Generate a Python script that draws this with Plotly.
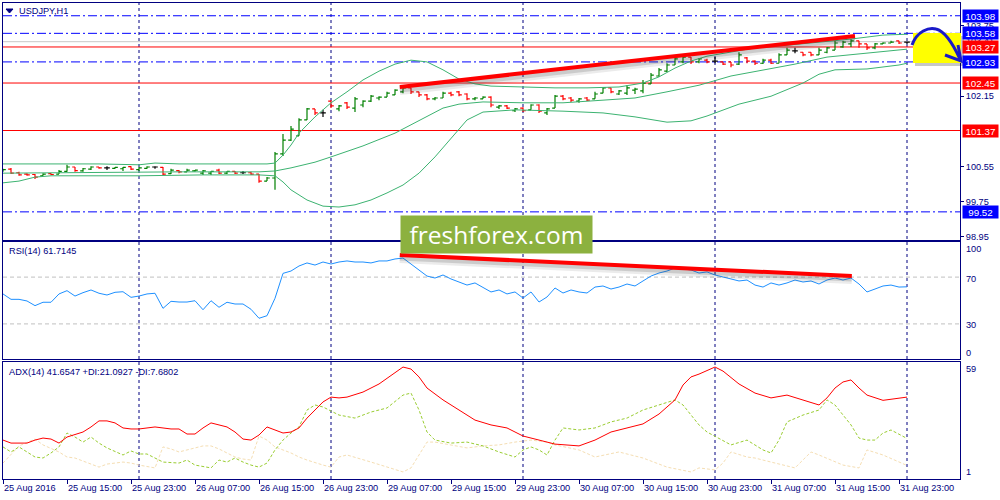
import plotly.graph_objects as go

# ---------------- data (H1 bars, index 0 = 25 Aug 2016 07:00) ----------------
bar_open = [100.44,100.49,100.41,100.38,100.37,100.34,100.39,100.38,100.44,100.54,
            100.45,100.49,100.54,100.52,100.51,100.50,100.55,100.48,100.51,100.54,
            100.53,100.39,100.46,100.43,100.45,100.40,100.40,100.47,100.40,100.44,
            100.41,100.41,100.38,100.22,100.29,100.84,101.15,101.25,101.61,101.86,
            101.77,102.04,101.86,102.00,101.88,101.95,102.04,102.11,102.13,102.18,
            102.25,102.34,102.25,102.18,102.09,102.11,102.22,102.25,102.20,102.09,
            102.09,102.13,101.90,101.93,101.82,101.88,101.84,101.95,101.77,101.88,
            102.15,102.11,102.04,102.11,102.09,102.22,102.34,102.20,102.22,102.29,
            102.27,102.43,102.61,102.72,102.86,102.93,103.04,102.93,102.97,102.95,
            102.93,102.93,102.88,103.02,102.95,102.90,102.97,102.90,103.09,103.18,
            103.15,103.15,103.09,103.15,103.20,103.27,103.34,103.41,103.34,103.25,
            103.34,103.36,103.41,103.38]
bar_high = [100.50,100.52,100.43,100.40,100.38,100.40,100.40,100.47,100.59,100.54,
            100.52,100.56,100.54,100.56,100.54,100.54,100.56,100.54,100.56,100.56,
            100.54,100.50,100.47,100.50,100.47,100.47,100.45,100.50,100.45,100.45,
            100.45,100.43,100.38,100.31,100.88,101.29,101.47,101.65,101.88,101.86,
            101.84,102.06,101.95,102.02,102.13,102.06,102.18,102.15,102.25,102.31,
            102.36,102.34,102.25,102.20,102.13,102.25,102.25,102.27,102.22,102.13,
            102.15,102.15,101.95,101.95,101.88,101.90,101.97,101.97,101.88,102.18,
            102.18,102.13,102.11,102.13,102.25,102.36,102.34,102.29,102.40,102.34,
            102.52,102.68,102.79,102.90,103.04,103.06,103.04,103.02,103.00,103.04,
            102.93,102.93,103.15,103.04,102.97,103.00,103.00,103.13,103.25,103.25,
            103.15,103.15,103.25,103.27,103.41,103.41,103.45,103.41,103.34,103.36,
            103.38,103.41,103.41,103.38]
bar_low = [100.43,100.38,100.34,100.34,100.27,100.34,100.36,100.38,100.43,100.43,
           100.43,100.47,100.50,100.47,100.50,100.45,100.47,100.45,100.50,100.50,
           100.36,100.38,100.40,100.43,100.43,100.36,100.36,100.38,100.38,100.38,
           100.38,100.36,100.18,100.22,100.02,100.79,101.13,101.25,101.61,101.72,
           101.68,101.88,101.81,101.86,101.79,101.90,102.02,102.06,102.13,102.18,
           102.22,102.20,102.13,102.06,102.06,102.11,102.15,102.15,102.06,102.06,
           102.09,101.90,101.86,101.86,101.79,101.79,101.84,101.77,101.72,101.88,
           102.06,102.02,102.00,102.04,102.09,102.22,102.22,102.18,102.18,102.20,
           102.22,102.43,102.59,102.70,102.86,102.90,102.88,102.90,102.90,102.90,
           102.86,102.81,102.86,102.90,102.86,102.88,102.88,102.90,103.09,103.13,
           103.06,103.06,103.09,103.13,103.20,103.25,103.27,103.25,103.20,103.22,
           103.34,103.36,103.34,103.34]
bar_close = [100.48,100.40,100.36,100.36,100.31,100.38,100.37,100.44,100.54,100.46,
             100.50,100.54,100.52,100.52,100.53,100.53,100.49,100.52,100.54,100.54,
             100.38,100.47,100.43,100.47,100.47,100.45,100.44,100.40,100.44,100.40,
             100.41,100.38,100.22,100.29,100.84,101.15,101.40,101.61,101.86,101.77,
             101.77,101.93,101.93,101.90,102.09,102.04,102.15,102.13,102.22,102.29,
             102.34,102.25,102.18,102.09,102.11,102.22,102.18,102.18,102.09,102.11,
             102.13,101.95,101.93,101.88,101.86,101.82,101.95,101.81,101.86,102.15,
             102.09,102.06,102.09,102.06,102.20,102.34,102.25,102.27,102.34,102.31,
             102.45,102.63,102.75,102.86,103.00,103.04,102.93,103.00,102.93,102.95,
             102.88,102.86,103.09,102.95,102.90,102.97,102.90,103.09,103.20,103.18,
             103.09,103.09,103.20,103.25,103.36,103.38,103.41,103.34,103.25,103.34,
             103.36,103.38,103.36,103.38]

# Bollinger bands (read at selected bars)
bb_upper_idx = [0,12,17,19,22,32,33,34,35,36,37,39,41,43,45,47,49,51,53,55,57,59,61,65,69,73,77,80,82,84,86,88,91,94,98,102,106,110,113]
bb_upper = [100.61,100.61,100.59,100.63,100.61,100.61,100.61,100.63,100.81,101.04,
            101.31,101.68,102.00,102.25,102.52,102.72,102.88,102.97,102.93,102.75,
            102.54,102.43,102.38,102.36,102.34,102.34,102.36,102.45,102.59,102.79,
            102.95,103.06,103.15,103.25,103.31,103.38,103.45,103.54,103.56]
bb_mid_idx = [0,12,22,32,34,36,39,41,45,49,52,55,57,60,65,70,75,79,83,87,91,95,99,103,108,113]
bb_mid = [100.40,100.42,100.43,100.43,100.45,100.52,100.65,100.77,101.02,101.31,101.59,101.88,101.97,
          102.02,102.00,102.00,102.06,102.11,102.25,102.40,102.61,102.75,102.88,103.04,103.13,103.22]
bb_lower_idx = [0,2,4,6,17,21,25,32,34,35,36,38,40,42,44,46,48,50,52,54,56,58,60,64,70,75,79,83,86,88,92,96,100,102,104,108,112,113]
bb_lower = [100.18,100.22,100.31,100.34,100.34,100.35,100.36,100.36,100.34,100.20,
            100.02,99.79,99.65,99.63,99.68,99.79,99.95,100.13,100.40,100.77,
            101.20,101.61,101.79,101.84,101.81,101.77,101.68,101.56,101.59,101.70,
            101.97,102.15,102.45,102.65,102.75,102.77,102.86,102.90]

# RSI(14), one value per bar
rsi = [55.6,51.0,51.0,49.6,45.6,48.5,48.5,55.6,58.4,53.8,
       56.7,59.0,56.2,54.7,57.0,57.5,52.7,53.8,55.6,56.2,
       43.3,49.3,48.7,48.7,49.8,42.1,49.8,44.2,48.5,47.0,
       47.0,42.5,34.8,37.0,51.9,73.2,75.2,79.5,82.1,80.3,
       82.9,81.2,82.9,83.8,82.9,82.9,82.1,83.8,83.8,85.5,
       86.3,81.2,76.1,70.9,69.2,71.8,68.4,65.8,63.2,65.0,
       61.5,57.3,59.0,55.6,57.3,52.1,57.3,48.7,53.0,60.7,
       56.4,59.0,57.3,56.4,61.5,62.4,59.8,61.5,64.1,62.4,
       66.7,70.9,73.5,75.2,77.8,76.9,76.1,73.5,74.4,71.8,
       70.1,68.4,66.7,67.5,63.2,61.5,65.0,63.2,65.0,67.5,
       65.8,66.7,64.1,67.5,69.2,67.5,69.2,64.1,57.3,59.8,
       62.4,63.2,61.5,61.7]

# ADX(14)
adx_idx = [0,1,3,4,5,6,7,8,10,11,12,13,14,15,16,17,19,21,22,23,24,25,26,27,28,29,30,31,32,33,
           34,35,36,37,38,39,40,41,42,43,45,47,49,50,51,52,53,55,57,59,61,63,65,67,69,72,74,76,78,80,
           82,84,85,86,87,89,90,92,94,96,98,100,102,103,104,105,106,107,108,110,112,113]
adx_val = [20.3,18.8,18.8,20.3,21.3,20.8,18.8,21.8,24.3,26.8,29.8,29.8,28.8,26.3,25.8,25.8,26.8,25.8,25.8,23.3,
           23.3,26.3,28.8,27.8,26.8,24.3,20.8,20.3,22.8,26.8,25.3,23.8,24.3,26.3,31.2,35.2,39.2,41.6,41.2,41.6,
           44.1,48.1,54.0,56.5,55.5,51.6,46.1,40.2,35.2,30.2,27.8,26.3,22.3,20.3,18.3,17.4,20.3,24.3,26.3,28.3,
           33.2,40.2,47.6,51.6,53.0,56.5,54.5,48.1,43.6,41.2,42.6,40.2,37.7,41.2,46.1,49.1,50.1,46.1,42.6,40.0,
           41.0,41.6]
pdi_idx = [0,1,2,4,5,6,7,8,9,10,11,12,13,15,16,17,18,19,20,22,23,24,26,27,28,29,30,31,32,33,
           34,35,36,37,38,39,40,42,44,46,48,50,51,52,53,54,56,58,60,62,64,65,66,67,68,69,70,72,74,76,
           78,80,82,84,85,86,87,88,90,91,93,95,96,97,98,100,102,103,104,105,106,107,108,109,110,111,113]
pdi_val = [16.9,14.4,16.9,11.9,11.4,13.9,16.9,23.8,21.8,19.3,21.8,18.8,16.4,12.9,14.9,13.4,13.4,11.4,9.4,8.9,
           10.4,7.9,6.5,10.4,9.4,11.4,9.4,7.9,6.9,8.9,15.4,20.3,23.8,26.8,35.2,37.7,36.7,32.7,31.2,34.2,
           36.2,42.6,43.6,35.2,24.3,20.3,18.8,19.3,17.4,14.4,11.9,15.4,16.9,15.4,12.9,20.3,26.3,25.3,26.3,29.3,
           31.2,35.2,37.7,40.2,37.7,32.7,27.8,24.3,20.3,17.9,20.3,15.4,13.9,20.3,29.3,32.7,35.2,40.2,37.7,32.7,
           27.8,21.3,20.3,20.3,23.8,25.3,21.1]
mdi_idx = [0,1,2,4,5,7,8,9,10,12,13,15,16,17,19,20,21,22,23,25,26,27,28,29,30,31,32,33,34,35,
           36,37,38,40,41,42,43,46,50,51,52,53,54,56,58,60,62,64,66,68,69,72,74,77,80,83,86,87,89,90,
           91,93,94,96,99,101,102,105,107,108,110,113]
mdi_val = [8.9,12.9,17.4,20.8,17.9,14.4,11.9,11.4,9.9,6.9,8.4,9.4,8.9,7.9,6.5,16.9,15.9,14.4,15.4,17.4,
           17.4,15.9,13.9,11.9,10.9,10.4,22.3,20.3,16.9,15.4,13.9,11.9,10.4,7.9,6.9,11.9,12.9,9.4,4.5,6.5,
           12.9,19.3,19.3,17.9,16.4,17.4,17.9,19.3,20.3,19.3,17.9,15.4,11.9,14.4,11.4,6.9,4.5,6.5,5.5,8.9,
           14.4,11.9,11.4,9.4,6.5,14.4,12.9,7.9,6.5,15.4,12.9,7.7]

# axis ticks / labels
x_tick_idx = [0,8,16,24,32,40,48,56,64,72,80,88,96,104,112]
x_tick_text = ["25 Aug 2016","25 Aug 15:00","25 Aug 23:00","26 Aug 07:00","26 Aug 15:00",
               "26 Aug 23:00","29 Aug 07:00","29 Aug 15:00","29 Aug 23:00","30 Aug 07:00",
               "30 Aug 15:00","30 Aug 23:00","31 Aug 07:00","31 Aug 15:00","31 Aug 23:00"]
day_sep_idx = [17,41,65,89,113]
price_ticks = [98.95,99.75,100.55,102.15,103.75]
blue_levels = [103.98,103.58,102.93,99.52]
red_levels = [103.27,102.45,101.37]
bid_price = 103.39
bid_label = 103.41
trend_price = dict(x=[49.6,106.5], y=[102.36,103.52])
trend_rsi = dict(x=[49.6,106.1], y=[88.9,70.9])
rsi_levels = [70,30]
rsi_labels = ["100","70","30","0"]
adx_labels = ["59","1"]

# ---------------- style ----------------
NAVY = '#000080'
BLUE = '#0000FF'
RED = '#FF0000'
BB = '#3CB371'
FONT = 'Liberation Sans, Arial, sans-serif'
FS = 9.2
L_PX, R_PX, T_PX, B_PX = 3, 960, 3, 479

def px_x(x):
    return (x - L_PX) / (R_PX - L_PX)

def px_y(y):
    return (B_PX - y) / (B_PX - T_PX)

fig = go.Figure()

# Bollinger bands
for xi, yv in [(bb_upper_idx, bb_upper), (bb_mid_idx, bb_mid), (bb_lower_idx, bb_lower)]:
    fig.add_trace(go.Scatter(x=xi, y=yv, mode='lines', line=dict(color=BB, width=1),
                             xaxis='x', yaxis='y', hoverinfo='skip', showlegend=False))

# price bars split by direction
n = len(bar_open)
groups = [([i for i in range(n) if bar_close[i] > bar_open[i]], '#008000'),
          ([i for i in range(n) if bar_close[i] < bar_open[i]], RED),
          ([i for i in range(n) if bar_close[i] == bar_open[i]], '#000000')]
for idx, col in groups:
    fig.add_trace(go.Ohlc(x=idx,
                          open=[bar_open[i] for i in idx], high=[bar_high[i] for i in idx],
                          low=[bar_low[i] for i in idx], close=[bar_close[i] for i in idx],
                          increasing=dict(line=dict(color=col, width=1.2)),
                          decreasing=dict(line=dict(color=col, width=1.2)),
                          tickwidth=0.35, xaxis='x', yaxis='y', hoverinfo='skip', showlegend=False))

# RSI
fig.add_trace(go.Scatter(x=list(range(len(rsi))), y=rsi, mode='lines', line=dict(color='#1E90FF', width=1),
                         xaxis='x2', yaxis='y2', hoverinfo='skip', showlegend=False))
# ADX
fig.add_trace(go.Scatter(x=mdi_idx, y=mdi_val, mode='lines', line=dict(color='#F5DEB3', width=1, dash='3px,2px'),
                         xaxis='x3', yaxis='y3', hoverinfo='skip', showlegend=False))
fig.add_trace(go.Scatter(x=pdi_idx, y=pdi_val, mode='lines', line=dict(color='#9ACD32', width=1, dash='3px,2px'),
                         xaxis='x3', yaxis='y3', hoverinfo='skip', showlegend=False))
fig.add_trace(go.Scatter(x=adx_idx, y=adx_val, mode='lines', line=dict(color=RED, width=1),
                         xaxis='x3', yaxis='y3', hoverinfo='skip', showlegend=False))

shapes = []
# day separators
for d in day_sep_idx:
    shapes.append(dict(type='line', xref='x', yref='paper', x0=d, x1=d, y0=0, y1=1,
                       line=dict(color=NAVY, width=1, dash='3px,3px'), layer='below'))
# bid line
shapes.append(dict(type='line', xref='x domain', yref='y', x0=0, x1=1, y0=bid_price, y1=bid_price,
                   line=dict(color='#C8C8C8', width=1), layer='below'))
for lv in blue_levels:
    shapes.append(dict(type='line', xref='x domain', yref='y', x0=0, x1=1, y0=lv, y1=lv,
                       line=dict(color=BLUE, width=1, dash='9px,3px,2px,3px'), layer='below'))
for lv in red_levels:
    shapes.append(dict(type='line', xref='x domain', yref='y', x0=0, x1=1, y0=lv, y1=lv,
                       line=dict(color=RED, width=1), layer='below'))
for lv in rsi_levels:
    shapes.append(dict(type='line', xref='x2 domain', yref='y2', x0=0, x1=1, y0=lv, y1=lv,
                       line=dict(color='#C0C0C0', width=1, dash='4px,3px'), layer='below'))

# trend lines with soft shadow
px_per_price = 237 / (104.27 - 98.88)
px_per_rsi = 117 / 100
for tl, xr, yr, per in [(trend_price, 'x', 'y', px_per_price), (trend_rsi, 'x2', 'y2', px_per_rsi)]:
    for off, w, a in [(3.5 / per, 9, 0.10), (2.5 / per, 6, 0.18)]:
        shapes.append(dict(type='line', xref=xr, yref=yr, x0=tl['x'][0], x1=tl['x'][1],
                           y0=tl['y'][0] - off, y1=tl['y'][1] - off,
                           line=dict(color=f'rgba(60,60,60,{a})', width=w), layer='above'))
    shapes.append(dict(type='line', xref=xr, yref=yr, x0=tl['x'][0], x1=tl['x'][1],
                       y0=tl['y'][0], y1=tl['y'][1], line=dict(color=RED, width=4), layer='above'))

# yellow highlight box with shadow + blue curved arrow
shapes.append(dict(type='rect', xref='paper', yref='paper', x0=px_x(915), x1=px_x(964), y0=px_y(66), y1=px_y(36),
                   fillcolor='rgba(0,0,0,0.22)', line=dict(width=0), layer='above'))
shapes.append(dict(type='rect', xref='paper', yref='paper', x0=px_x(913), x1=px_x(961), y0=px_y(63), y1=px_y(33),
                   fillcolor='#FFFF00', line=dict(width=0), layer='above'))

def pt(x, y):
    return f"{px_x(x):.5f},{px_y(y):.5f}"

curve = (f"M {pt(912,45)} C {pt(917,31)} {pt(929,27)} {pt(936,29)} "
         f"C {pt(945,31)} {pt(953,44)} {pt(960,59)}")
shapes.append(dict(type='path', xref='paper', yref='paper', path=curve,
                   line=dict(color='#1A1AC8', width=3), layer='above'))
head = f"M {pt(958,45)} L {pt(961,61)} L {pt(945,55)}"
shapes.append(dict(type='path', xref='paper', yref='paper', path=head,
                   line=dict(color='#1A1AC8', width=3), layer='above'))
# title triangle
tri = f"M {pt(6,9)} L {pt(13,9)} L {pt(9.5,13)} Z"
shapes.append(dict(type='path', xref='paper', yref='paper', path=tri, fillcolor=NAVY,
                   line=dict(color=NAVY, width=1), layer='above'))

ann = []
def txt(x, y, s, color=NAVY, size=FS, xanchor='left'):
    ann.append(dict(x=px_x(x), y=px_y(y), xref='paper', yref='paper', text=s, showarrow=False,
                    xanchor=xanchor, yanchor='middle', font=dict(family=FONT, size=size, color=color)))

txt(17, 11, "USDJPY,H1")
txt(7, 251, "RSI(14) 61.7145")
txt(7, 372, "ADX(14) 41.6547 +DI:21.0927 -DI:7.6802")
for s, y in zip(rsi_labels, [249, 279, 325, 353]):
    txt(964, y, s)
for s, y in zip(adx_labels, [369, 472]):
    txt(964, y, s)
# x labels
for xi, s in zip(x_tick_idx, x_tick_text):
    ann.append(dict(x=xi, y=px_y(488), xref='x3', yref='paper', text=s, showarrow=False,
                    xanchor='left', yanchor='middle', xshift=-1,
                    font=dict(family=FONT, size=FS, color=NAVY)))
# bid label (partly hidden behind the level labels, as in the terminal)
ann.append(dict(x=1, y=bid_label, xref='paper', yref='y', text=f"{bid_label:.2f}", showarrow=False,
                xanchor='left', yanchor='middle', xshift=4, font=dict(family=FONT, size=FS, color=NAVY)))
# coloured level labels
for lv in blue_levels + red_levels:
    col = BLUE if lv in blue_levels else RED
    ann.append(dict(x=1, y=lv, xref='paper', yref='y', text=f"{lv:.2f}", showarrow=False,
                    xanchor='left', yanchor='middle', xshift=2, width=33, height=10, borderpad=1,
                    bgcolor=col, font=dict(family=FONT, size=FS + 0.6, color='white')))
# logo
ann.append(dict(x=px_x(496.5), y=px_y(234.5), xref='paper', yref='paper', text="freshforex.com",
                showarrow=False, xanchor='center', yanchor='middle', width=191, height=37, borderpad=0,
                bgcolor='#8CB13F', font=dict(family='Open Sans, sans-serif', size=24.5, color='white')))

axis_line = dict(showline=True, linecolor=NAVY, linewidth=1, mirror=True, showgrid=False, zeroline=False)
xr = [0, (R_PX - L_PX) / 8]
fig.update_layout(
    width=1000, height=500,
    margin=dict(l=L_PX, r=1000 - R_PX, t=T_PX, b=500 - B_PX),
    paper_bgcolor='white', plot_bgcolor='white', showlegend=False,
    font=dict(family=FONT, size=FS, color=NAVY),
    xaxis=dict(domain=[0, 1], range=xr, anchor='y', showticklabels=False, ticks='',
               rangeslider=dict(visible=False), **axis_line),
    xaxis2=dict(domain=[0, 1], range=xr, anchor='y2', showticklabels=False, ticks='',
                rangeslider=dict(visible=False), **axis_line),
    xaxis3=dict(domain=[0, 1], range=xr, anchor='y3', showticklabels=False, ticks='outside',
                tickvals=x_tick_idx, ticklen=4, tickcolor=NAVY, rangeslider=dict(visible=False), **axis_line),
    yaxis=dict(domain=[px_y(240), 1], range=[98.88, 104.27], anchor='x', side='right',
               tickvals=price_ticks, ticktext=[f"{v:.2f}" for v in price_ticks], ticks='outside', ticklen=3,
               tickcolor=NAVY, tickfont=dict(family=FONT, size=FS, color=NAVY), **axis_line),
    yaxis2=dict(domain=[px_y(359), px_y(242)], range=[0, 100], anchor='x2', side='right',
                showticklabels=False, ticks='', **axis_line),
    yaxis3=dict(domain=[0, px_y(362)], range=[1, 59], anchor='x3', side='right',
                showticklabels=False, ticks='', **axis_line),
    shapes=shapes, annotations=ann,
)

fig.write_html("out.html", config={'displayModeBar': False},
               post_script="document.body.style.margin='0px';document.body.style.padding='0px';"
                           "document.body.style.overflow='hidden';")
